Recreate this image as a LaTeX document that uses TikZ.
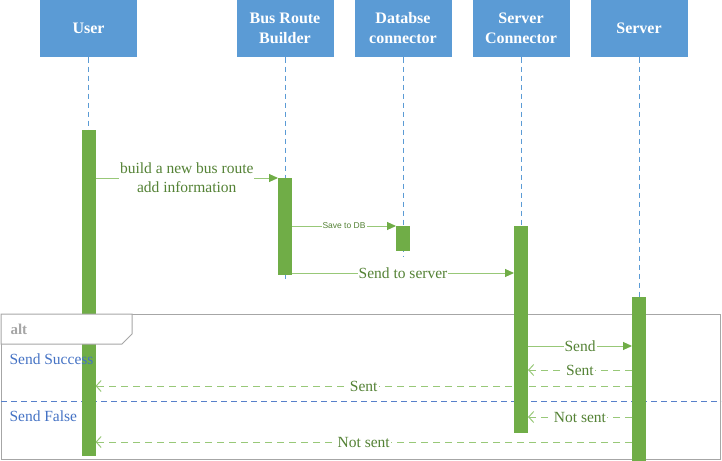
\documentclass[tikz,border=0pt]{standalone}
\usepackage{fontspec}
\setmainfont{Liberation Serif}
\setsansfont{Liberation Sans}
\usetikzlibrary{arrows.meta,positioning}

\definecolor{headblue}{HTML}{5B9BD5}
\definecolor{actgreen}{HTML}{70AD47}
\definecolor{linegreen}{HTML}{98C878}
\definecolor{textgreen}{HTML}{548235}
\definecolor{guardblue}{HTML}{4472C4}
\definecolor{framegray}{HTML}{A6A6A6}

\begin{document}
\begin{tikzpicture}[x=1pt,y=-1pt,node distance=118pt,line width=1pt,
                    every node/.style={font=\fontsize{15.5}{19}\selectfont}]
  \tikzstyle{head}=[fill=headblue,text=white,align=center,minimum width=97pt,
                    minimum height=57pt,inner sep=0pt,
                    font=\bfseries\fontsize{16}{20}\selectfont]
  \tikzstyle{bar}=[fill=actgreen,minimum width=13pt,inner sep=0pt,anchor=north]
  \tikzstyle{lifeline}=[headblue,line width=0.9pt,dash pattern=on 5pt off 4pt]
  \tikzstyle{msg}=[text=textgreen,fill=white,inner sep=1pt,align=center]
  \tikzstyle{call}=[linegreen,-{Triangle[length=9pt,width=8pt,color=actgreen]}]
  \tikzstyle{reply}=[linegreen,dash pattern=on 7pt off 5pt,
                     -{Straight Barb[length=5pt,width=11pt]}]
  \tikzstyle{guard}=[text=guardblue,anchor=west,inner sep=0pt]
  \useasboundingbox (0,0) rectangle (722,460);

  % lifeline heads
  \node[head] (user) at (88.5,28.5) {User};
  \node[head] (builder) at (285,28.5) {Bus Route\\Builder};
  \node[head] (dbconn) [right of=builder] {Databse\\connector};
  \node[head] (srvconn) [right of=dbconn] {Server\\Connector};
  \node[head] (server) [right of=srvconn] {Server};

  % activation bars (placed now, drawn later)
  \path (user.south |- 0,130) node[bar,minimum height=325pt] (ubar) {};
  \path (builder.south |- 0,178) node[bar,minimum height=96pt] (bbar) {};
  \path (dbconn.south |- 0,226) node[bar,minimum height=24pt] (dbar) {};
  \path (srvconn.south |- 0,226) node[bar,minimum height=206pt] (scbar) {};
  \path (server.south |- 0,297) node[bar,minimum height=163pt] (svbar) {};

  \draw[lifeline] (user.south) -- (ubar.south);
  \draw[lifeline,shorten >=-4pt] (builder.south) -- (bbar.south);
  \draw[lifeline,shorten >=-5pt] (dbconn.south) -- (dbar.south);
  \draw[lifeline] (srvconn.south) -- (scbar.south);
  \draw[lifeline] (server.south) -- (svbar.south);

  % alt frame
  \node[draw=framegray,minimum width=719pt,minimum height=145pt,inner sep=0pt,
        anchor=north west] (altbox) at (1,314) {};
  \draw[guardblue!90!white,line width=0.9pt,dash pattern=on 6pt off 4pt]
    (altbox.west |- 0,401) -- (altbox.east |- 0,401);

  % messages
  \draw[call] (ubar.east |- 0,178) -- node[msg] {build a new bus route\\add information} (bbar.west |- 0,178);
  \draw[call] (bbar.east |- 0,226) -- node[msg,font=\sffamily\fontsize{8.5}{10}\selectfont] {Save to DB} (dbar.west |- 0,226);
  \draw[call] (bbar.east |- 0,273) -- node[msg] {Send to server} (scbar.west |- 0,273);
  \draw[call] (scbar.east |- 0,346) -- node[msg] {Send} (svbar.west |- 0,346);
  \draw[reply] (svbar.west |- 0,370) -- node[msg] {Sent} (scbar.east |- 0,370);
  \draw[reply] (svbar.west |- 0,386) -- node[msg] {Sent} (ubar.east |- 0,386);
  \draw[reply] (svbar.west |- 0,417) -- node[msg] {Not sent} (scbar.east |- 0,417);
  \draw[reply] (svbar.west |- 0,442) -- node[msg] {Not sent} (ubar.east |- 0,442);

  % bars on top
  \foreach \b in {ubar,bbar,dbar,scbar,svbar}
    \fill[actgreen] (\b.north west) rectangle (\b.south east);

  % alt tab and guards
  \draw[framegray,fill=white] (altbox.north west) -- (132,314) -- (132,334)
    -- (122,344) -- (1,344) -- cycle;
  \node[text=framegray,anchor=west,inner sep=0pt,font=\bfseries\fontsize{15}{18}\selectfont]
    (alttag) at (10,329) {alt};
  \node[guard] (success) at (9,359) {Send Success};
  \node[guard] (false) at (9,416) {Send False};
\end{tikzpicture}
\end{document}
